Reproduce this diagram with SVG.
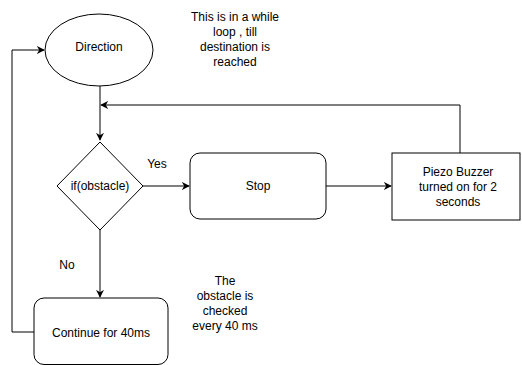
<svg xmlns="http://www.w3.org/2000/svg" width="522" height="365" viewBox="0 0 522 365">
<style>
.s{fill:#fff;stroke:#000;stroke-width:1}
.t{font-family:"Liberation Sans",Arial,sans-serif;font-size:12px;fill:#000;text-anchor:middle;dominant-baseline:central}
.c{fill:none;stroke:#000;stroke-width:1}
</style>
<defs>
<marker id="a" viewBox="0 0 10 10" refX="9" refY="5" markerWidth="8" markerHeight="8" markerUnits="userSpaceOnUse" orient="auto">
<path d="M0,0 L10,5 L0,10 L3,5 Z" fill="#000"/>
</marker>
</defs>
<rect width="522" height="365" fill="#fff"/>
<g id="connectors">
<path class="c" d="M100,86 V140" marker-end="url(#a)"/>
<path class="c" d="M460,153 V105 H101" marker-end="url(#a)"/>
<path class="c" d="M143,186 H189" marker-end="url(#a)"/>
<path class="c" d="M326,186 H391" marker-end="url(#a)"/>
<path class="c" d="M100,230 V297" marker-end="url(#a)"/>
<path class="c" d="M34,332 H12 V50 H44" marker-end="url(#a)"/>
</g>
<g id="direction">
<ellipse class="s" cx="99" cy="50" rx="54" ry="36"/>
<text class="t" x="99" y="47">Direction</text>
</g>
<g id="decision">
<path class="s" d="M100,142 L143,186 L100,230 L57,186 Z"/>
<text class="t" x="100" y="186">if(obstacle)</text>
</g>
<g id="stop">
<rect class="s" x="190" y="153" width="136" height="66" rx="10"/>
<text class="t" x="258" y="186">Stop</text>
</g>
<g id="buzzer">
<rect class="s" x="392" y="153" width="128" height="67"/>
<text class="t" x="458" y="172">Piezo Buzzer</text>
<text class="t" x="458" y="187">turned on for 2</text>
<text class="t" x="458" y="202">seconds</text>
</g>
<g id="continue">
<rect class="s" x="34" y="298" width="134" height="66.5" rx="10"/>
<text class="t" x="101" y="333">Continue for 40ms</text>
</g>
<g id="labels">
<text class="t" x="157" y="164">Yes</text>
<text class="t" x="67" y="265">No</text>
<text class="t" x="235" y="17">This is in a while</text>
<text class="t" x="235" y="32">loop , till</text>
<text class="t" x="235" y="47">destination is</text>
<text class="t" x="235" y="62">reached</text>
<text class="t" x="225" y="281">The</text>
<text class="t" x="225" y="296">obstacle is</text>
<text class="t" x="225" y="311">checked</text>
<text class="t" x="225" y="326">every 40 ms</text>
</g>
</svg>
